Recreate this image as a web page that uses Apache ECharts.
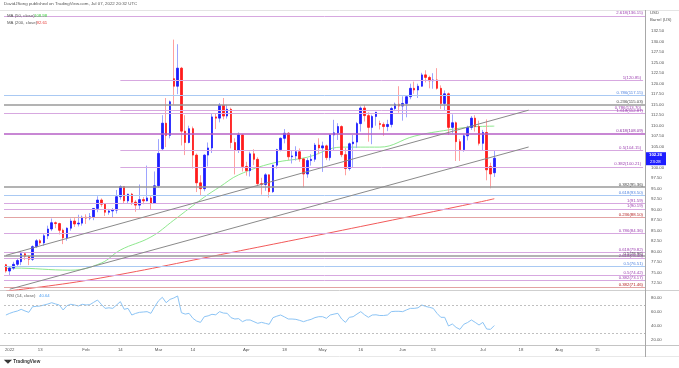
<!DOCTYPE html>
<html><head><meta charset="utf-8">
<script src="https://cdn.jsdelivr.net/npm/echarts@6/dist/echarts.min.js"></script>
<style>html,body{margin:0;padding:0;background:#fff}#c{width:679px;height:368px}</style>
</head><body><div id="c"></div>
<script>
// ---------------- DATA ----------------
const HOLIDAYS = ['2022-01-17','2022-02-21','2022-04-15','2022-05-30','2022-06-20','2022-07-04'];
const FIRST_DAY = '2021-12-31';
const SLOT_COUNT = 168;

const open = [76.9,75.4,76.1,77.0,77.6,79.5,78.9,78.2,81.2,82.6,
 82.1,83.8,85.4,86.9,86.7,85.1,83.3,85.6,87.3,86.6,
 86.8,88.2,88.0,88.3,90.3,92.3,91.3,89.4,89.7,89.9,
 93.1,95.5,92.1,93.7,91.8,91.1,92.4,92.1,92.8,91.6,
 95.7,104.5,110.6,107.7,121.2,119.4,123.7,108.7,106.0,109.3,
 103.0,96.4,95.0,103.0,104.7,112.1,111.8,114.9,112.3,113.9,
 106.0,104.2,107.8,100.3,99.3,103.3,102.0,96.2,96.0,98.3,
 94.3,100.6,104.3,107.0,108.2,102.6,102.8,103.8,102.1,98.5,
 101.7,102.0,105.4,104.7,105.2,102.4,107.8,108.3,109.8,103.1,
 99.8,105.7,106.1,110.5,114.2,112.4,109.6,112.2,110.5,110.3,
 109.8,110.3,114.1,115.1,114.7,115.3,116.9,118.9,118.5,119.4,
 122.1,121.5,120.7,120.9,118.9,115.3,117.6,109.6,110.7,106.2,
 104.3,107.6,109.6,111.8,109.8,105.8,108.4,100.3,98.8];
const high = [77.1,76.6,77.6,78.4,80.2,79.9,79.1,81.5,83.0,83.0,
 84.2,86.2,87.9,87.2,86.9,85.5,85.8,87.9,88.0,88.8,
 88.6,88.9,89.2,90.4,93.2,92.7,91.5,90.2,90.4,94.7,
 95.8,95.6,93.8,94.0,92.3,96.0,93.0,100.5,93.3,99.1,
 106.8,112.5,116.6,116.0,130.5,129.4,124.0,112.5,110.0,109.8,
 103.4,98.2,103.2,106.0,113.0,112.9,115.4,116.6,115.0,114.3,
 107.0,108.4,108.0,101.4,103.8,104.4,102.5,97.6,98.7,98.4,
 100.7,104.5,107.2,109.2,108.5,104.0,105.1,104.6,102.2,102.3,
 103.2,105.9,107.0,106.2,105.5,108.0,111.4,110.6,110.1,104.7,
 106.0,107.8,110.9,114.6,115.0,113.2,112.6,113.3,111.2,110.8,
 111.4,114.5,115.5,119.4,117.0,117.0,120.0,120.5,120.0,122.6,
 123.2,121.9,122.5,123.7,119.6,118.4,117.9,112.7,111.0,106.8,
 108.0,110.0,112.3,112.5,111.2,109.0,111.5,101.2,104.0];
const low = [75.0,74.3,75.7,76.6,76.8,78.0,76.8,77.8,80.9,81.6,
 81.4,83.0,84.9,85.6,84.1,81.8,82.6,85.0,85.9,86.0,
 86.2,86.6,87.5,87.5,89.4,90.7,88.5,88.8,88.1,89.1,
 92.4,91.5,91.4,91.1,89.5,90.1,91.3,92.0,90.1,91.5,
 95.2,104.0,104.9,107.0,115.0,117.5,105.3,103.0,105.8,99.8,
 94.2,93.5,94.4,100.3,103.5,109.2,110.8,111.5,111.7,104.6,
 98.4,103.5,99.1,98.1,97.9,100.6,95.7,93.6,94.5,92.9,
 94.0,99.8,103.9,105.8,101.8,101.0,101.7,101.4,95.3,97.6,
 100.5,101.4,103.2,99.0,101.8,101.7,104.2,106.6,102.5,98.2,
 99.3,100.1,104.7,108.6,111.0,106.2,105.6,110.0,109.1,107.6,
 108.7,109.6,113.5,113.1,111.2,112.0,116.3,117.6,116.6,119.3,
 120.3,118.9,118.8,118.6,114.0,113.5,107.8,108.2,101.6,101.6,
 103.8,106.5,109.0,108.6,105.3,104.2,97.0,95.1,97.8];
const close = [75.4,76.1,77.0,77.9,79.5,78.9,78.2,81.2,82.6,82.1,
 83.8,85.4,86.9,86.7,85.1,83.3,85.6,87.3,86.6,86.8,
 88.2,88.0,88.3,90.3,92.3,91.3,89.4,89.7,89.9,93.1,
 95.5,92.1,93.7,91.8,91.1,92.4,92.1,92.8,91.6,95.7,
 103.4,110.6,107.7,115.7,119.4,123.7,108.7,106.0,109.3,103.0,
 96.4,95.0,103.0,104.7,112.1,111.8,114.9,112.3,113.9,106.0,
 104.2,107.8,100.3,99.3,103.3,102.0,96.2,96.0,98.3,94.3,
 100.6,104.3,107.0,108.2,102.6,102.8,103.8,102.1,98.5,101.7,
 102.0,105.4,104.7,105.2,102.4,107.8,108.3,109.8,103.1,99.8,
 105.7,106.1,110.5,114.2,112.4,109.6,112.2,113.2,110.3,109.8,
 110.3,114.1,115.1,114.7,115.3,116.9,118.9,118.5,119.4,122.1,
 121.5,120.7,120.9,118.9,115.3,117.6,109.6,110.7,106.2,104.3,
 107.6,109.6,111.8,109.8,105.8,108.4,99.5,98.5,102.26];
const rsi = [55.7,58.1,60,61.4,63.8,61.5,59.5,67.6,68,68.6,
 70,71.4,73.3,71.5,70,62.9,69,71,70,68.6,
 71,70,70.5,73.8,77.1,71,65.2,66,65.2,70,
 74.8,63.8,65.2,55.7,58,59.5,60,60.5,58.1,67.6,
 76,81,73.3,78,80,82.9,59,57,58.1,51,
 47,45.2,53.3,54.5,56.7,56,60.5,58.5,58.1,51.9,
 50,50.5,46.2,48.6,48.6,46.2,43.8,45.2,43.8,42.4,
 51.9,54,55.7,53,50,50,49.5,48,46.2,48,
 49.5,52,53.3,53.3,51,55.7,57,58.1,50,45.2,
 52.4,53.3,57,60.5,56,52.4,55.7,56,55,55,
 55.7,60.5,61,61,60.5,63,65.2,65.2,66,70,
 68,66.7,65.2,58,52.4,52.4,40,42.9,38,35.2,
 42.4,45,48.6,45.2,41.4,45.2,35.7,35.2,40.64];

// moving averages at sample dates
const ma50Pts = [['2021-12-31',76.0],['2022-01-04',76.1],['2022-01-26',75.6],['2022-02-07',77.3],
 ['2022-02-14',80.4],['2022-02-25',83.5],['2022-03-07',87.5],['2022-03-17',93.0],['2022-03-23',95.4],
 ['2022-03-30',98.3],['2022-04-12',101.1],['2022-04-26',102.5],['2022-05-09',104.9],['2022-05-23',104.9],
 ['2022-06-06',107.5],['2022-06-17',109.0],['2022-06-28',109.7],['2022-07-07',109.9]];
const ma200Pts = [['2021-12-31',70.6],['2022-02-02',73.3],['2022-03-28',79.8],['2022-05-16',86.0],
 ['2022-06-30',91.8],['2022-07-07',92.61]];

// fibonacci levels
const fibPrice = [136.15,120.85,117.15,115.03,113.70,112.87,108.09,104.15,100.21,95.36,93.50,91.59,90.19,88.10,84.36,79.82,78.96,78.40,76.51,74.42,73.17,71.46,70.17];
const fibText = ['2.618(136.15)','1(120.85)','0.786(117.15)','0.236(115.03)','0.786(113.70)','1.618(112.87)','0.618(108.09)','0.5(104.15)','0.382(100.21)','0.382(95.36)','0.618(93.50)','1(91.59)','1(90.19)','0.236(88.10)','0.786(84.36)','0.618(79.82)','0.5(78.96)','2.618(78.40)','0.5(76.51)','0.5(74.42)','0.382(73.17)','0.382(71.46)','0.382(70.17)'];
const fibFrom = [null,'2022-02-14',null,null,'2022-02-14',null,null,'2022-02-14','2022-02-14',null,null,null,null,null,null,null,null,null,null,null,null,null,null];
const fibKind = ['p','p','b','g','p','p','P','p','p','g','b','p','p','r','p','p','g','p','b','p','p','r','p'];

// trend lines [startDate, startPrice, endDate, endPrice]
const trendLines = [['2021-12-31',79.12,'2022-07-20',113.7],['2022-01-03',71.07,'2022-07-20',104.93]];

// axis ticks
const priceTicks = [72.5,75,77.5,80,82.5,85,87.5,90,92.5,95,97.5,100,102.5,105,107.5,110,112.5,115,117.5,120,122.5,125,127.5,130,132.5];
const rsiTicks = [20,40,60,80];
const xTickLabels = [['2022-01-03','2022'],['2022-01-13','13'],['2022-02-01','Feb'],['2022-02-14','14'],['2022-03-01','Mar'],['2022-03-14','14'],['2022-04-01','Apr'],['2022-04-18','18'],['2022-05-02','May'],['2022-05-16','16'],['2022-06-01','Jun'],['2022-06-13','13'],['2022-07-01','Jul'],['2022-07-18','18'],['2022-08-01','Aug'],['2022-08-15','15']];
const lastTime = '23:28';

// ---------------- BUILD ----------------
const categories = (function(){
  const out=[]; const hol=new Set(HOLIDAYS);
  const d=new Date(FIRST_DAY+'T00:00:00Z');
  while(out.length<SLOT_COUNT){
    const wd=d.getUTCDay(); const s=d.toISOString().slice(0,10);
    if(wd!==0&&wd!==6&&!hol.has(s)) out.push(s);
    d.setUTCDate(d.getUTCDate()+1);
  }
  return out;
})();
const xLabelMap = new Map(xTickLabels);
const dataDates = categories.slice(0, close.length);

const UP='#1d1dff', DOWN='#ff1c1c', UPW='#9da4ff', DOWNW='#ffa0a0';
const FONT='"Liberation Sans", Arial, sans-serif';
const KIND = {
  p:{line:'#d7a8e0',w:1,text:'#9c3fb0'},
  P:{line:'#b65fc6',w:1.6,text:'#8a2aa0'},
  b:{line:'#a9c9f3',w:1,text:'#4f83e0'},
  g:{line:'#9a9a9a',w:1.6,text:'#444'},
  r:{line:'#e3a3a3',w:1.2,text:'#b32020'}
};
const lastCat = categories[categories.length-1];
const fibData = fibPrice.map((p,i)=>{
  const k=KIND[fibKind[i]];
  const lbl={show:true,position:'insideEndTop',formatter:fibText[i],color:k.text,fontSize:4.3,fontFamily:FONT,distance:[2,0.6]};
  const ls={color:k.line,width:k.w,type:'solid'};
  if(fibFrom[i]) return [{coord:[fibFrom[i],p],lineStyle:ls,label:lbl},{coord:[lastCat,p]}];
  return {yAxis:p,lineStyle:ls,label:lbl};
});
const trendData = trendLines.map(t=>[
  {coord:[t[0],t[1]],lineStyle:{color:'#8a8a8a',width:1,type:'solid'},label:{show:false}},
  {coord:[t[2],t[3]]}]);

const wickData = dataDates.map((d,i)=>[open[i],close[i],low[i],high[i]]);
const bodyData = dataDates.map((d,i)=>[open[i],close[i],Math.min(open[i],close[i]),Math.max(open[i],close[i])]);

const chart = echarts.init(document.getElementById('c'),null,{renderer:'canvas'});
const axisLbl = {fontSize:4.3,color:'#555',fontFamily:FONT};
chart.setOption({
  animation:false,
  backgroundColor:'#fff',
  grid:[{left:4,top:10,width:641,height:280},{left:4,top:291,width:641,height:54}],
  xAxis:[
    {type:'category',gridIndex:0,data:categories,axisLine:{show:false},axisTick:{show:false},axisLabel:{show:false},splitLine:{show:false}},
    {type:'category',gridIndex:1,data:categories,axisLine:{show:false},axisTick:{show:false},splitLine:{show:false},
     axisLabel:Object.assign({interval:(i,v)=>xLabelMap.has(v),formatter:v=>xLabelMap.get(v)||'',margin:3},axisLbl)}
  ],
  yAxis:[
    {type:'value',gridIndex:0,position:'right',min:70.88,max:137.55,scale:true,axisLine:{show:false},axisTick:{show:false},splitLine:{show:false},
     axisLabel:Object.assign({customValues:priceTicks,formatter:v=>v.toFixed(2),margin:6},axisLbl)},
    {type:'value',gridIndex:1,position:'right',min:12.86,max:90,axisLine:{show:false},axisTick:{show:false},splitLine:{show:false},
     axisLabel:Object.assign({customValues:rsiTicks,formatter:v=>v.toFixed(2),margin:6},axisLbl)}
  ],
  series:[
    {type:'line',name:'MA200',xAxisIndex:0,yAxisIndex:0,data:ma200Pts,smooth:0.4,showSymbol:false,lineStyle:{color:'#f25a5a',width:1},z:1},
    {type:'line',name:'MA50',xAxisIndex:0,yAxisIndex:0,data:ma50Pts,smooth:0.4,showSymbol:false,lineStyle:{color:'#8ee88e',width:1},z:1},
    {type:'candlestick',name:'wick',xAxisIndex:0,yAxisIndex:0,data:wickData,barWidth:0.1,
      itemStyle:{color:UPW,color0:DOWNW,borderColor:UPW,borderColor0:DOWNW,borderWidth:1},z:2,
      markLine:{silent:true,symbol:['none','none'],animation:false,lineStyle:{type:'solid'},data:fibData.concat(trendData)}},
    {type:'candlestick',name:'body',xAxisIndex:0,yAxisIndex:0,data:bodyData,barWidth:2,
      itemStyle:{color:UP,color0:DOWN,borderColor:UP,borderColor0:DOWN,borderWidth:0.8},z:3},
    {type:'line',name:'RSI',xAxisIndex:1,yAxisIndex:1,data:rsi,showSymbol:false,lineStyle:{color:'#8cc4f5',width:1},z:3,
      markLine:{silent:true,symbol:['none','none'],label:{show:false},lineStyle:{color:'#b0b0b0',type:[2,2],width:0.8},data:[{yAxis:70},{yAxis:30}]}}
  ]
});

// price tag on the right axis
const yLast = chart.convertToPixel({yAxisIndex:0}, close[close.length-1]);
const T = (x,y,text,fill,size,extra,z)=>({type:'text',x,y,z:z||20,silent:true,style:Object.assign({text,fill,fontSize:size,fontFamily:FONT},extra||{})});
chart.setOption({graphic:[
  {type:'line',shape:{x1:0,y1:10.5,x2:679,y2:10.5},style:{stroke:'#e4e4e4',lineWidth:1},silent:true},
  {type:'line',shape:{x1:0,y1:290.5,x2:679,y2:290.5},style:{stroke:'#cfcfcf',lineWidth:1},silent:true},
  {type:'line',shape:{x1:0,y1:345.5,x2:679,y2:345.5},style:{stroke:'#c4c4c4',lineWidth:1.2},silent:true},
  {type:'line',shape:{x1:0,y1:356.5,x2:679,y2:356.5},style:{stroke:'#e8e8e8',lineWidth:1},silent:true},
  {type:'line',shape:{x1:645.5,y1:10,x2:645.5,y2:357},style:{stroke:'#a8a8a8',lineWidth:1},silent:true},
  T(4,1.5,'DavidJSong published on TradingView.com, Jul 07, 2022 20:32 UTC','#555',4.4),
  T(7,14,'MA (50, close) ','#555',4.3),
  T(34,14,'108.98','#3fcf3f',4.3),
  T(7,20.5,'MA (200, close) ','#555',4.3),
  T(36.5,20.5,'92.61','#e53935',4.3),
  T(7,294,'RSI (14, close) ','#555',4.3),
  T(39,294,'40.64','#4a9cf0',4.3),
  T(650,11,'USD','#555',4.3),
  T(650,17.5,'Barrel (US)','#555',4.3),
  {type:'rect',shape:{x:646,y:yLast-6,width:20,height:13},style:{fill:'#1d1dff'},silent:true,z:15},
  T(649,yLast-5,close[close.length-1].toFixed(2),'#fff',4.3,{fontWeight:'bold'},30),
  T(650,yLast+1.2,lastTime,'#fff',4.3,null,30),
  T(4,359,'\u25E5\u25E4 TradingView','#333',4.6,{fontWeight:'bold'})
]});
</script></body></html>
